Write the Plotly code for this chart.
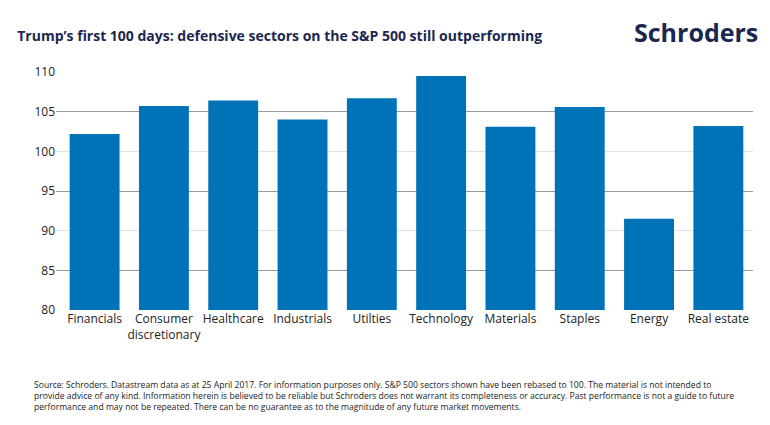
import plotly.graph_objects as go

sectors = ["Financials", "Consumer<br>discretionary", "Healthcare", "Industrials", "Utilties",
           "Technology", "Materials", "Staples", "Energy", "Real estate"]
rebased = [102.2, 105.7, 106.4, 104.0, 106.7, 109.5, 103.1, 105.6, 91.5, 103.2]

navy = "#1b2751"
fig = go.Figure()
fig.add_trace(go.Bar(x=sectors, y=rebased, marker_color="#0072b8", marker_line_width=0))
# invisible trace so the darker grid axis renders
fig.add_trace(go.Scatter(x=sectors[:1], y=[80], yaxis="y2", mode="markers",
                         marker_opacity=0, hoverinfo="skip"))

fig.update_layout(
    width=770, height=425, showlegend=False, bargap=0.28,
    plot_bgcolor="white", paper_bgcolor="white",
    font=dict(family="Open Sans", size=12, color="#222"),
    margin=dict(l=48, r=25, t=64, b=123),
    title=dict(text="<b>Trump’s first 100 days: defensive sectors on the S&P 500 still outperforming</b>",
               x=0.012, xanchor="left", y=0.945, font=dict(size=14, color=navy)),
    xaxis=dict(showline=False, ticks="", tickangle=0, tickfont=dict(size=12)),
    yaxis=dict(range=[80, 110], dtick=5, gridcolor="#e2e2e2", zeroline=False,
               tickfont=dict(size=12), ticks="", layer="below traces"),
    yaxis2=dict(range=[80, 110], tick0=85, dtick=10, gridcolor="#9a9a9a", overlaying="y",
                showticklabels=False, zeroline=False, layer="below traces"),
)
fig.add_annotation(text="<b>Schroders</b>", xref="paper", yref="paper", x=1.01, y=1.25,
                   xanchor="right", showarrow=False, font=dict(size=25, color=navy))
fig.add_annotation(
    text=("Source: Schroders. Datastream data as at 25 April 2017. For information purposes only. S&P 500 sectors shown have been rebased to 100. The material is not intended to<br>"
          "provide advice of any kind. Information herein is believed to be reliable but Schroders does not warrant its completeness or accuracy. Past performance is not a guide to future<br>"
          "performance and may not be repeated. There can be no guarantee as to the magnitude of any future market movements."),
    xref="paper", yref="paper", x=-0.035, y=-0.28, xanchor="left", yanchor="top", align="left",
    showarrow=False, font=dict(size=8.6, color="#222"))

fig.write_html("out.html")
